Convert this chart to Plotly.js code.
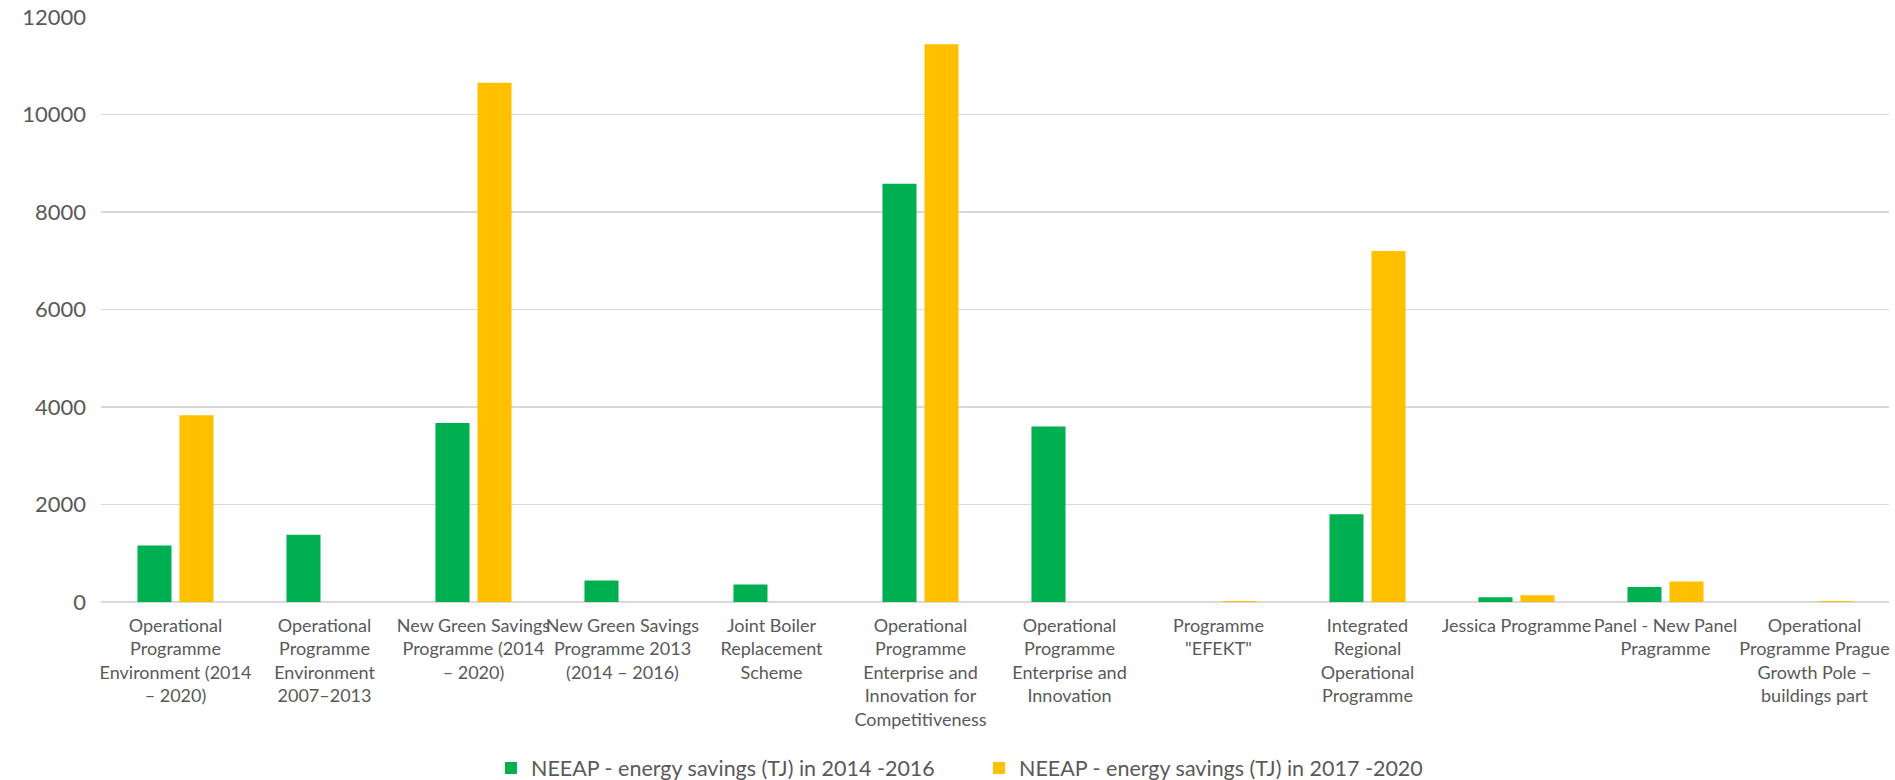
<!DOCTYPE html>
<html>
<head>
<meta charset="utf-8">
<script src="https://cdn.plot.ly/plotly-3.0.1.min.js"></script>
<style>
html,body{margin:0;padding:0;background:#fff;}
#chart{width:1895px;height:780px;}
</style>
</head>
<body>
<div id="chart"></div>
<script>
// Categories (programmes)
const categories = [
  "Operational Programme Environment (2014 – 2020)",
  "Operational Programme Environment 2007–2013",
  "New Green Savings Programme (2014 – 2020)",
  "New Green Savings Programme 2013 (2014 – 2016)",
  "Joint Boiler Replacement Scheme",
  "Operational Programme Enterprise and Innovation for Competitiveness",
  "Operational Programme Enterprise and Innovation",
  "Programme \"EFEKT\"",
  "Integrated Regional Operational Programme",
  "Jessica Programme",
  "Panel - New Panel Pragramme",
  "Operational Programme Prague Growth Pole – buildings part"
];

// Tick labels as wrapped in the reference
const tickLabels = [
  "Operational<br>Programme<br>Environment (2014<br>– 2020)",
  "Operational<br>Programme<br>Environment<br>2007–2013",
  "New Green Savings<br>Programme (2014<br>– 2020)",
  "New Green Savings<br>Programme 2013<br>(2014 – 2016)",
  "Joint Boiler<br>Replacement<br>Scheme",
  "Operational<br>Programme<br>Enterprise and<br>Innovation for<br>Competitiveness",
  "Operational<br>Programme<br>Enterprise and<br>Innovation",
  "Programme<br>\"EFEKT\"",
  "Integrated<br>Regional<br>Operational<br>Programme",
  "Jessica Programme",
  "Panel - New Panel<br>Pragramme",
  "Operational<br>Programme Prague<br>Growth Pole –<br>buildings part"
];

// Series names
const seriesNames = [
  "NEEAP - energy savings (TJ) in 2014 -2016",
  "NEEAP - energy savings (TJ) in 2017 -2020"
];

// Values (TJ)
const savings2014_2016 = [1160, 1380, 3670, 440, 360, 8580, 3600, 0, 1800, 100, 310, 0];
const savings2017_2020 = [3830, 0, 10650, 0, 0, 11440, 0, 20, 7200, 140, 420, 20];

const yTickVals = [0, 2000, 4000, 6000, 8000, 10000, 12000];

const FONT = "Lato, 'Open Sans', sans-serif";
const TEXT = "#595959";

const traces = [
  {
    type: "bar",
    name: seriesNames[0],
    x: categories,
    y: savings2014_2016,
    marker: {color: "#00B050", line: {width: 0}},
    hoverinfo: "none"
  },
  {
    type: "bar",
    name: seriesNames[1],
    x: categories,
    y: savings2017_2020,
    marker: {color: "#FFC000", line: {width: 0}},
    hoverinfo: "none"
  }
];

const layout = {
  width: 1895,
  height: 780,
  paper_bgcolor: "#ffffff",
  plot_bgcolor: "#ffffff",
  margin: {l: 101, r: 6, t: 17, b: 178, pad: 0, autoexpand: false},
  barmode: "group",
  bargap: 0.436,
  bargroupgap: 0.19,
  font: {family: FONT, color: TEXT, size: 18},
  showlegend: true,
  legend: {
    orientation: "h",
    x: 0.2181,
    xanchor: "left",
    yref: "container",
    y: 0.0154,
    yanchor: "middle",
    entrywidth: 443,
    entrywidthmode: "pixels",
    font: {family: FONT, size: 21.5, color: TEXT},
    itemclick: false,
    itemdoubleclick: false,
    traceorder: "normal"
  },
  xaxis: {
    type: "category",
    tickmode: "array",
    tickvals: categories,
    ticktext: tickLabels,
    tickangle: 0,
    ticks: "",
    ticklabelstandoff: 11,
    showgrid: false,
    showline: false,
    zeroline: false,
    tickfont: {family: FONT, size: 18, color: TEXT},
    automargin: false,
    fixedrange: true
  },
  yaxis: {
    range: [0, 12000],
    tickmode: "array",
    tickvals: yTickVals,
    ticktext: yTickVals.map(String),
    showgrid: true,
    gridcolor: "#D9D9D9",
    gridwidth: 1.3,
    zeroline: true,
    zerolinecolor: "#D9D9D9",
    zerolinewidth: 1.3,
    showline: false,
    ticks: "",
    ticklabelstandoff: 14,
    tickfont: {family: FONT, size: 22, color: TEXT},
    automargin: false,
    fixedrange: true
  }
};

Plotly.newPlot("chart", traces, layout, {displayModeBar: false, staticPlot: true});
</script>
</body>
</html>
